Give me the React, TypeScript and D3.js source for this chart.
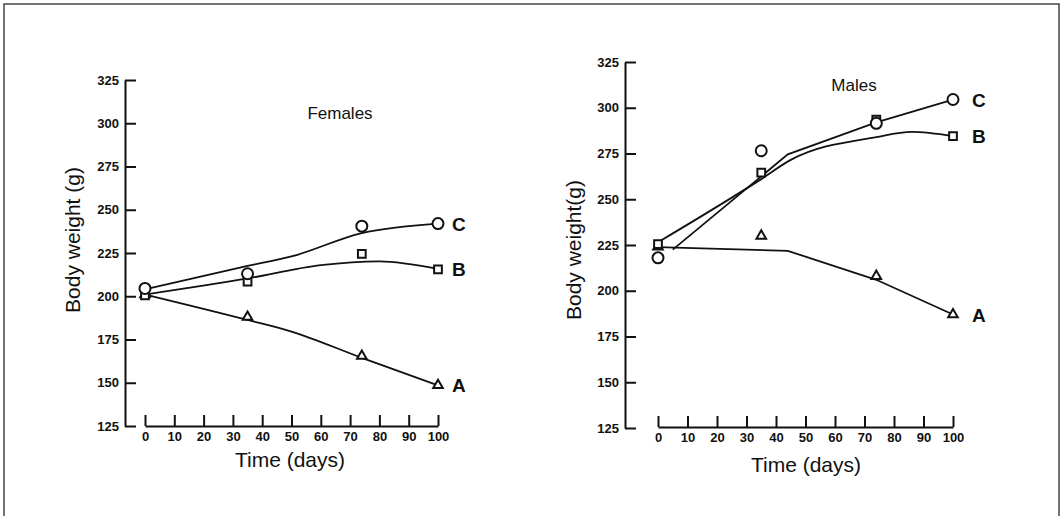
import React, { useEffect, useRef } from 'react';
import * as d3 from 'd3';

// observed means (x = days)
const days = [0, 35, 74, 100];
const femaleA = [201, 188, 165.5, 148.5];
const femaleB = [200.5, 208.5, 224.5, 215.5];
const femaleC = [204.5, 213, 240.5, 242];
const maleA = [224, 230, 208, 187];
const maleB = [225.5, 264.5, 293.5, 284.5];
const maleC = [218, 276.5, 291.5, 304.5];

// fitted curves
const femaleFitA = [[0, 201], [35, 186.3], [50, 179.6], [74, 164.4], [100, 148.5]];
const femaleFitB = [[0, 201], [35, 210.3], [60, 218], [80, 220.2], [100, 215.8]];
const femaleFitC = [[0, 204], [35, 217.5], [50, 223], [74, 236.5], [100, 242]];
const maleFitA = [[0, 223.8], [44, 221.8], [74, 206], [100, 187]];
const maleFitB = [[0, 226.5], [35, 261], [45, 271.5], [74, 284], [86, 286.8], [100, 284.5]];
const maleFitC = [[5, 222.5], [35, 262.5], [44, 274.5], [74, 292], [100, 304.5]];

const yTicks = [125, 150, 175, 200, 225, 250, 275, 300, 325];
const xTicks = [0, 10, 20, 30, 40, 50, 60, 70, 80, 90, 100];

const FONT = "'Liberation Sans', Arial, sans-serif";

interface Panel {
  title: string;
  yLabel: string;
  yAxisX: number;
  yTop: number;
  yBottom: number;
  x0: number;
  x1: number;
  base: number;
  titleX: number;
  titleY: number;
  yLabelX: number;
  yLabelY: number;
  xLabelX: number;
  xLabelY: number;
  labelX: number;
  series: { key: string; pts: number[]; fit: number[][]; shape: string; smooth: boolean }[];
}

const panels: Panel[] = [
  {
    title: 'Females', yLabel: 'Body weight (g)',
    yAxisX: 125, yTop: 80, yBottom: 426, x0: 145, x1: 438, base: 426,
    titleX: 340, titleY: 119, yLabelX: 80, yLabelY: 240, xLabelX: 290, xLabelY: 467, labelX: 452,
    series: [
      { key: 'A', pts: femaleA, fit: femaleFitA, shape: 'tri', smooth: true },
      { key: 'B', pts: femaleB, fit: femaleFitB, shape: 'sq', smooth: true },
      { key: 'C', pts: femaleC, fit: femaleFitC, shape: 'circ', smooth: true },
    ],
  },
  {
    title: 'Males', yLabel: 'Body weight(g)',
    yAxisX: 625, yTop: 62, yBottom: 428, x0: 658, x1: 953, base: 427,
    titleX: 854, titleY: 91, yLabelX: 581, yLabelY: 250, xLabelX: 806, xLabelY: 472, labelX: 972,
    series: [
      { key: 'A', pts: maleA, fit: maleFitA, shape: 'tri', smooth: false },
      { key: 'B', pts: maleB, fit: maleFitB, shape: 'sq', smooth: true },
      { key: 'C', pts: maleC, fit: maleFitC, shape: 'circ', smooth: false },
    ],
  },
];

const App: React.FC = () => {
  const svgRef = useRef<SVGSVGElement | null>(null);

  useEffect(() => {
    if (!svgRef.current) return;
    const svg = d3.select(svgRef.current);
    svg.selectAll('*').remove();

    svg.append('rect').attr('width', 1062).attr('height', 516).attr('fill', '#fff');

    // page frame (no bottom edge)
    svg.append('path')
      .attr('d', 'M4,516 V4 H1059 V516')
      .attr('fill', 'none')
      .attr('stroke', '#444')
      .attr('stroke-width', 1.5);

    panels.forEach((p) => {
      const x = d3.scaleLinear().domain([0, 100]).range([p.x0, p.x1]);
      const y = d3.scaleLinear().domain([125, 325]).range([p.yBottom, p.yTop]);
      const g = svg.append('g');

      const yAxis = g.append('g')
        .attr('transform', `translate(${p.yAxisX},0)`)
        .call(d3.axisLeft(y).tickValues(yTicks).tickSizeInner(-11).tickSizeOuter(0).tickPadding(6));
      yAxis.selectAll('path,line').attr('stroke', '#111').attr('stroke-width', 2);
      yAxis.selectAll('text')
        .attr('font-family', FONT).attr('font-size', 13).attr('font-weight', 600).attr('fill', '#111');

      const xAxis = g.append('g')
        .attr('transform', `translate(0,${p.base})`)
        .call(d3.axisBottom(x).tickValues(xTicks).tickSizeInner(-11).tickSizeOuter(0).tickPadding(6));
      xAxis.selectAll('path,line').attr('stroke', '#111').attr('stroke-width', 2);
      xAxis.selectAll('text')
        .attr('font-family', FONT).attr('font-size', 13).attr('font-weight', 600).attr('fill', '#111');

      g.append('text')
        .attr('x', p.xLabelX).attr('y', p.xLabelY)
        .attr('text-anchor', 'middle')
        .style('font-family', FONT).style('font-size', '21px').attr('fill', '#111')
        .text('Time (days)');

      g.append('text')
        .attr('transform', `translate(${p.yLabelX},${p.yLabelY}) rotate(-90)`)
        .attr('text-anchor', 'middle')
        .style('font-family', FONT).style('font-size', '21px').attr('fill', '#111')
        .text(p.yLabel);

      g.append('text')
        .attr('x', p.titleX).attr('y', p.titleY)
        .attr('text-anchor', 'middle')
        .style('font-family', FONT).style('font-size', '17px').attr('fill', '#111')
        .text(p.title);

      p.series.forEach((s) => {
        const line = d3.line<number[]>()
          .x((d) => x(d[0]))
          .y((d) => y(d[1]))
          .curve(s.smooth ? d3.curveMonotoneX : d3.curveLinear);
        g.append('path')
          .attr('d', line(s.fit) as string)
          .attr('fill', 'none')
          .attr('stroke', '#111')
          .attr('stroke-width', 1.8);
      });

      p.series.forEach((s) => {
        const type = s.shape === 'circ' ? d3.symbolCircle : s.shape === 'sq' ? d3.symbolSquare : d3.symbolTriangle;
        const size = s.shape === 'circ' ? 95 : s.shape === 'sq' ? 60 : 40;
        const sym = d3.symbol().type(type).size(size);
        g.selectAll(null)
          .data(days.map((d, i) => [d, s.pts[i]]))
          .enter()
          .append('path')
          .attr('d', sym() as string)
          .attr('transform', (d) => `translate(${x(d[0])},${y(d[1])})`)
          .attr('fill', '#fff')
          .attr('stroke', '#111')
          .attr('stroke-width', 2);

        g.append('text')
          .attr('x', p.labelX)
          .attr('y', y(s.pts[s.pts.length - 1]) + 7)
          .style('font-family', FONT).style('font-size', '19px').style('font-weight', 600).attr('fill', '#111')
          .text(s.key);
      });
    });
  }, []);

  return (
    <div style={{ position: 'absolute', left: 0, top: 0 }}>
      <svg ref={svgRef} width={1062} height={516}></svg>
    </div>
  );
};

export default App;
